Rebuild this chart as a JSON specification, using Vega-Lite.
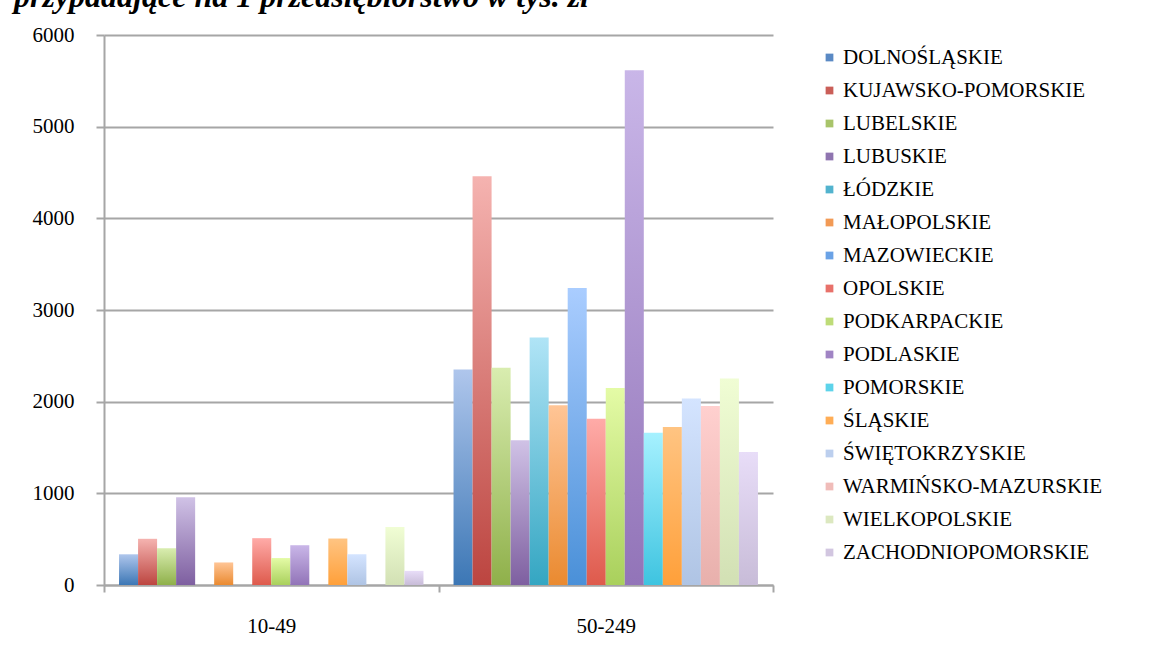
{
  "$schema": "https://vega.github.io/schema/vega-lite/v6.json",
  "autosize": "none",
  "width": 669,
  "height": 550,
  "padding": {"left": 104, "top": 35, "right": 378, "bottom": 74},
  "background": "white",
  "title": {
    "text": "przypadające na 1 przedsiębiorstwo w tys. zł",
    "anchor": "start",
    "font": "Liberation Serif",
    "fontSize": 32,
    "fontWeight": "bold",
    "fontStyle": "italic",
    "color": "black",
    "dx": -18,
    "dy": 15,
    "offset": 0,
    "baseline": "alphabetic"
  },
  "data": {
    "values": [
      {"grupa": "10-49", "woj": "DOLNOŚLĄSKIE", "v": 335},
      {"grupa": "10-49", "woj": "KUJAWSKO-POMORSKIE", "v": 504},
      {"grupa": "10-49", "woj": "LUBELSKIE", "v": 401},
      {"grupa": "10-49", "woj": "LUBUSKIE", "v": 956},
      {"grupa": "10-49", "woj": "ŁÓDZKIE", "v": 0},
      {"grupa": "10-49", "woj": "MAŁOPOLSKIE", "v": 246},
      {"grupa": "10-49", "woj": "MAZOWIECKIE", "v": 0},
      {"grupa": "10-49", "woj": "OPOLSKIE", "v": 511},
      {"grupa": "10-49", "woj": "PODKARPACKIE", "v": 294},
      {"grupa": "10-49", "woj": "PODLASKIE", "v": 434},
      {"grupa": "10-49", "woj": "POMORSKIE", "v": 0},
      {"grupa": "10-49", "woj": "ŚLĄSKIE", "v": 507},
      {"grupa": "10-49", "woj": "ŚWIĘTOKRZYSKIE", "v": 335},
      {"grupa": "10-49", "woj": "WARMIŃSKO-MAZURSKIE", "v": 0},
      {"grupa": "10-49", "woj": "WIELKOPOLSKIE", "v": 632},
      {"grupa": "10-49", "woj": "ZACHODNIOPOMORSKIE", "v": 154},
      {"grupa": "50-249", "woj": "DOLNOŚLĄSKIE", "v": 2350},
      {"grupa": "50-249", "woj": "KUJAWSKO-POMORSKIE", "v": 4460},
      {"grupa": "50-249", "woj": "LUBELSKIE", "v": 2370},
      {"grupa": "50-249", "woj": "LUBUSKIE", "v": 1580},
      {"grupa": "50-249", "woj": "ŁÓDZKIE", "v": 2700},
      {"grupa": "50-249", "woj": "MAŁOPOLSKIE", "v": 1962},
      {"grupa": "50-249", "woj": "MAZOWIECKIE", "v": 3240},
      {"grupa": "50-249", "woj": "OPOLSKIE", "v": 1815},
      {"grupa": "50-249", "woj": "PODKARPACKIE", "v": 2150},
      {"grupa": "50-249", "woj": "PODLASKIE", "v": 5615},
      {"grupa": "50-249", "woj": "POMORSKIE", "v": 1660},
      {"grupa": "50-249", "woj": "ŚLĄSKIE", "v": 1725},
      {"grupa": "50-249", "woj": "ŚWIĘTOKRZYSKIE", "v": 2035},
      {"grupa": "50-249", "woj": "WARMIŃSKO-MAZURSKIE", "v": 1952},
      {"grupa": "50-249", "woj": "WIELKOPOLSKIE", "v": 2253},
      {"grupa": "50-249", "woj": "ZACHODNIOPOMORSKIE", "v": 1452}
    ]
  },
  "mark": {"type": "bar"},
  "encoding": {
    "x": {
      "field": "grupa",
      "type": "nominal",
      "title": null,
      "scale": {"paddingInner": 0, "paddingOuter": 0},
      "axis": {
        "labelAngle": 0,
        "labelFont": "Liberation Serif",
        "labelFontSize": 21,
        "labelColor": "black",
        "labelPadding": 23,
        "tickBand": "extent",
        "tickSize": 7,
        "tickColor": "#A6A6A6",
        "tickWidth": 2,
        "domainColor": "#A6A6A6",
        "domainWidth": 2,
        "grid": false
      }
    },
    "xOffset": {
      "field": "woj",
      "type": "nominal",
      "sort": null,
      "scale": {"paddingInner": 0, "paddingOuter": 0.79}
    },
    "y": {
      "field": "v",
      "type": "quantitative",
      "title": null,
      "scale": {"domain": [0, 6000]},
      "axis": {
        "values": [0, 1000, 2000, 3000, 4000, 5000, 6000],
        "format": "d",
        "labelFont": "Liberation Serif",
        "labelFontSize": 21,
        "labelColor": "black",
        "labelPadding": 22,
        "tickSize": 8,
        "tickColor": "#A6A6A6",
        "tickWidth": 2,
        "domainColor": "#A6A6A6",
        "domainWidth": 2,
        "grid": true,
        "gridColor": "#A6A6A6",
        "gridWidth": 2
      }
    },
    "color": {
      "condition": [
        {"test": "datum.woj === 'DOLNOŚLĄSKIE'", "value": {"gradient": "linear", "x1": 0, "y1": 0, "x2": 0, "y2": 1, "stops": [{"offset": 0, "color": "#AFC6EC"}, {"offset": 1, "color": "#3C77B5"}]}},
        {"test": "datum.woj === 'KUJAWSKO-POMORSKIE'", "value": {"gradient": "linear", "x1": 0, "y1": 0, "x2": 0, "y2": 1, "stops": [{"offset": 0, "color": "#F5B3B0"}, {"offset": 1, "color": "#BC4540"}]}},
        {"test": "datum.woj === 'LUBELSKIE'", "value": {"gradient": "linear", "x1": 0, "y1": 0, "x2": 0, "y2": 1, "stops": [{"offset": 0, "color": "#D9EDB0"}, {"offset": 1, "color": "#8FB04A"}]}},
        {"test": "datum.woj === 'LUBUSKIE'", "value": {"gradient": "linear", "x1": 0, "y1": 0, "x2": 0, "y2": 1, "stops": [{"offset": 0, "color": "#D0C2E6"}, {"offset": 1, "color": "#7E5FA0"}]}},
        {"test": "datum.woj === 'ŁÓDZKIE'", "value": {"gradient": "linear", "x1": 0, "y1": 0, "x2": 0, "y2": 1, "stops": [{"offset": 0, "color": "#B0E4F6"}, {"offset": 1, "color": "#34A6C2"}]}},
        {"test": "datum.woj === 'MAŁOPOLSKIE'", "value": {"gradient": "linear", "x1": 0, "y1": 0, "x2": 0, "y2": 1, "stops": [{"offset": 0, "color": "#FFC596"}, {"offset": 1, "color": "#EA8A30"}]}},
        {"test": "datum.woj === 'MAZOWIECKIE'", "value": {"gradient": "linear", "x1": 0, "y1": 0, "x2": 0, "y2": 1, "stops": [{"offset": 0, "color": "#AACDFF"}, {"offset": 1, "color": "#4A90D8"}]}},
        {"test": "datum.woj === 'OPOLSKIE'", "value": {"gradient": "linear", "x1": 0, "y1": 0, "x2": 0, "y2": 1, "stops": [{"offset": 0, "color": "#FFABA8"}, {"offset": 1, "color": "#DE5A4C"}]}},
        {"test": "datum.woj === 'PODKARPACKIE'", "value": {"gradient": "linear", "x1": 0, "y1": 0, "x2": 0, "y2": 1, "stops": [{"offset": 0, "color": "#E4FBA6"}, {"offset": 1, "color": "#A9D05C"}]}},
        {"test": "datum.woj === 'PODLASKIE'", "value": {"gradient": "linear", "x1": 0, "y1": 0, "x2": 0, "y2": 1, "stops": [{"offset": 0, "color": "#C9B6E8"}, {"offset": 1, "color": "#9274B8"}]}},
        {"test": "datum.woj === 'POMORSKIE'", "value": {"gradient": "linear", "x1": 0, "y1": 0, "x2": 0, "y2": 1, "stops": [{"offset": 0, "color": "#A6F1FF"}, {"offset": 1, "color": "#3EC4E0"}]}},
        {"test": "datum.woj === 'ŚLĄSKIE'", "value": {"gradient": "linear", "x1": 0, "y1": 0, "x2": 0, "y2": 1, "stops": [{"offset": 0, "color": "#FFC482"}, {"offset": 1, "color": "#FFA03A"}]}},
        {"test": "datum.woj === 'ŚWIĘTOKRZYSKIE'", "value": {"gradient": "linear", "x1": 0, "y1": 0, "x2": 0, "y2": 1, "stops": [{"offset": 0, "color": "#D4E4FF"}, {"offset": 1, "color": "#AFC4E4"}]}},
        {"test": "datum.woj === 'WARMIŃSKO-MAZURSKIE'", "value": {"gradient": "linear", "x1": 0, "y1": 0, "x2": 0, "y2": 1, "stops": [{"offset": 0, "color": "#FFD0CF"}, {"offset": 1, "color": "#E8B0AC"}]}},
        {"test": "datum.woj === 'WIELKOPOLSKIE'", "value": {"gradient": "linear", "x1": 0, "y1": 0, "x2": 0, "y2": 1, "stops": [{"offset": 0, "color": "#F0FDD4"}, {"offset": 1, "color": "#D2E0B4"}]}},
        {"test": "datum.woj === 'ZACHODNIOPOMORSKIE'", "value": {"gradient": "linear", "x1": 0, "y1": 0, "x2": 0, "y2": 1, "stops": [{"offset": 0, "color": "#E8DDF8"}, {"offset": 1, "color": "#C8BCD8"}]}}
      ],
      "field": "woj",
      "type": "nominal",
      "sort": null,
      "title": null,
      "scale": {
        "domain": ["DOLNOŚLĄSKIE", "KUJAWSKO-POMORSKIE", "LUBELSKIE", "LUBUSKIE", "ŁÓDZKIE", "MAŁOPOLSKIE", "MAZOWIECKIE", "OPOLSKIE", "PODKARPACKIE", "PODLASKIE", "POMORSKIE", "ŚLĄSKIE", "ŚWIĘTOKRZYSKIE", "WARMIŃSKO-MAZURSKIE", "WIELKOPOLSKIE", "ZACHODNIOPOMORSKIE"],
        "range": ["#5A89C4", "#CA5E58", "#A8C46A", "#8F75B0", "#52B3CE", "#F29A55", "#6AA2E6", "#E8716A", "#BEDC78", "#A084C4", "#5DD3EA", "#FFAD55", "#BCCFEE", "#F0BCB9", "#DCE8C0", "#D2C6E0"]
      },
      "legend": {
        "orient": "none",
        "legendX": 715,
        "legendY": 12,
        "padding": 0,
        "symbolType": "square",
        "symbolSize": 60,
        "symbolStrokeWidth": 0,
        "labelFont": "Liberation Serif",
        "labelFontSize": 21,
        "labelColor": "black",
        "labelOffset": 3,
        "rowPadding": 11,
        "labelLimit": 400
      }
    }
  },
  "config": {
    "view": {"stroke": null}
  }
}
